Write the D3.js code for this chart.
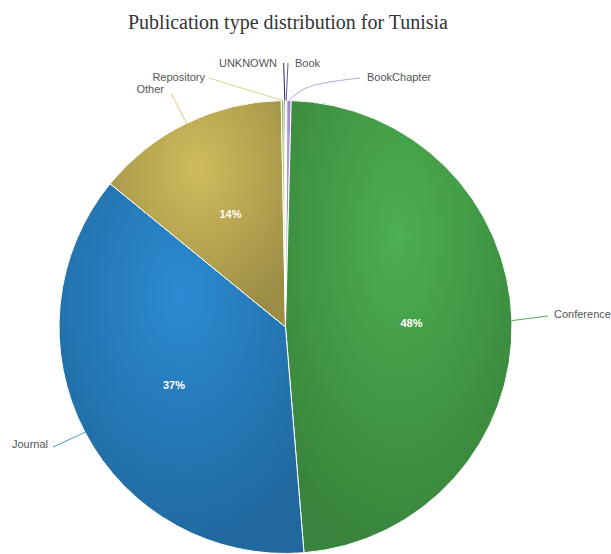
<!DOCTYPE html>
<html>
<head>
<meta charset="utf-8">
<script src="https://cdn.jsdelivr.net/npm/d3@7"></script>
<style>
  html, body { margin: 0; padding: 0; background: #fff; }
  svg { display: block; }
</style>
</head>
<body>
<svg id="chart" width="611" height="554"></svg>
<script>
// Publication counts by type (alphabetical order, drawn clockwise from 12 o'clock)
const categories = ["Book", "BookChapter", "Conference", "Journal", "Other", "Repository", "UNKNOWN"];
const counts     = [2, 6, 966, 744, 276, 4, 2];
const baseColors = ["#7a5cc0", "#b39ddb", "#4caf50", "#2b8bd2", "#d0bc5c", "#a5d46c", "#2e2e4e"];
const lineColors = ["#6a56b0", "#b7a2de", "#5aa85c", "#4a98d0", "#d9d07a", "#c9e08e", "#2b2b44"];
const title = "Publication type distribution for Tunisia";

// Where each outside label sits and the bend points its connector passes through
const labelLayout = {
  Book:        { x: 295, y: 67, anchor: "start", via: [[288, 63]] },
  BookChapter: { x: 367, y: 81, anchor: "start", via: [[300, 90], [318, 83], [360, 78]] },
  Conference:  { x: 554, y: 318, anchor: "start", via: [[548, 316]] },
  Journal:     { x: 48,  y: 448, anchor: "end", via: [[53, 447]] },
  Other:       { x: 164, y: 93, anchor: "end", via: [[171, 93]] },
  Repository:  { x: 205, y: 81, anchor: "end", via: [[209, 78]] },
  UNKNOWN:     { x: 277, y: 67, anchor: "end", via: [[283.7, 63]] }
};

const svg = d3.select("#chart");
const cx = 285.5, cy = 327, R = 226.5;
const total = d3.sum(counts);
const data = categories.map((c, i) => ({ name: c, value: counts[i], color: baseColors[i], line: lineColors[i] }));

svg.append("text")
  .attr("x", 288).attr("y", 29)
  .attr("text-anchor", "middle")
  .attr("font-family", "'Liberation Serif', 'Times New Roman', serif")
  .attr("font-size", 20)
  .attr("fill", "#333")
  .text(title);

// Radial gradient per slice: base colour fading to a darker rim
const defs = svg.append("defs");
data.forEach((d, i) => {
  const g = defs.append("radialGradient")
    .attr("id", "grad" + i)
    .attr("cx", 0.5).attr("cy", 0.3).attr("r", 0.7);
  g.append("stop").attr("offset", "0%").attr("stop-color", d.color);
  g.append("stop").attr("offset", "100%").attr("stop-color", d3.color(d.color).darker(0.8));
});

const pie = d3.pie().value(d => d.value).sort(null);
const arcs = pie(data);
const arc = d3.arc().innerRadius(0).outerRadius(R);
const labelArc = d3.arc().innerRadius(126).outerRadius(126);
const edgeArc = d3.arc().innerRadius(R).outerRadius(R);

const g = svg.append("g").attr("transform", `translate(${cx},${cy})`);

g.selectAll("path.slice")
  .data(arcs)
  .join("path")
  .attr("class", "slice")
  .attr("d", arc)
  .attr("fill", (d, i) => `url(#grad${i})`)
  .attr("stroke", "#fff")
  .attr("stroke-width", 1)
  .attr("stroke-linejoin", "round");

// Percentage labels inside the larger slices
g.selectAll("text.pct")
  .data(arcs.filter(d => d.data.value / total >= 0.05))
  .join("text")
  .attr("class", "pct")
  .attr("transform", d => `translate(${labelArc.centroid(d)})`)
  .attr("text-anchor", "middle")
  .attr("dy", "0.35em")
  .attr("font-family", "'Liberation Sans', Arial, sans-serif")
  .attr("font-size", 11)
  .attr("font-weight", "bold")
  .attr("fill", "#fff")
  .text(d => Math.round(d.data.value / total * 100) + "%");

// Connectors and category labels
const lineFor = d => {
  const L = labelLayout[d.data.name];
  const e = edgeArc.centroid(d);
  const pts = [[e[0] + cx, e[1] + cy]].concat(L.via);
  return pts.length > 2 ? d3.line().curve(d3.curveBasis)(pts) : d3.line()(pts);
};

svg.selectAll("path.connector")
  .data(arcs)
  .join("path")
  .attr("class", "connector")
  .attr("d", lineFor)
  .attr("fill", "none")
  .attr("stroke", d => d.data.line)
  .attr("stroke-width", 1);

svg.selectAll("text.cat")
  .data(arcs)
  .join("text")
  .attr("class", "cat")
  .attr("x", d => labelLayout[d.data.name].x)
  .attr("y", d => labelLayout[d.data.name].y)
  .attr("text-anchor", d => labelLayout[d.data.name].anchor)
  .attr("font-family", "'Liberation Sans', Arial, sans-serif")
  .attr("font-size", 11)
  .attr("fill", "#555")
  .text(d => d.data.name);
</script>
</body>
</html>
